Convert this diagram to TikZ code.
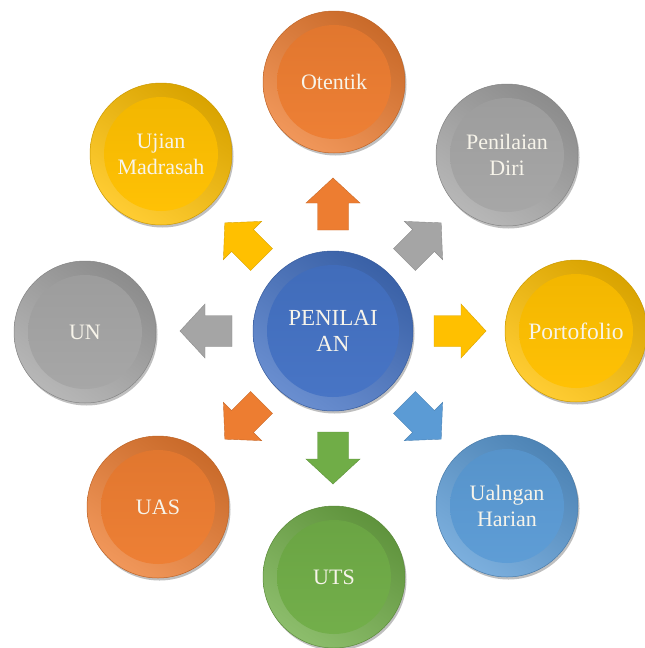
\documentclass[tikz,border=0pt]{standalone}
\usepackage{fontspec}
\setmainfont{Liberation Serif}
\usetikzlibrary{shadows,calc}
\definecolor{orangeC}{HTML}{ED7D31}
\definecolor{grayC}{HTML}{A5A5A5}
\definecolor{goldC}{HTML}{FFC000}
\definecolor{lblueC}{HTML}{5B9BD5}
\definecolor{greenC}{HTML}{70AD47}
\definecolor{blueC}{HTML}{4472C4}
\definecolor{txtC}{HTML}{F7F4EA}
\tikzset{
  bubble/.style 2 args={circle, inner sep=0pt, minimum size=142pt,
    font=\fontsize{22}{26}\selectfont, text=txtC, align=center,
    draw=#1!80!black, line width=0.5pt,
    drop shadow={shadow xshift=1.5pt, shadow yshift=-2.5pt, opacity=0.25, fill=black},
    path picture={
      \shade[top color=#1!85!black, middle color=#1, bottom color=#1!80!white, shading angle=-35]
        (path picture bounding box.south west) rectangle (path picture bounding box.north east);
      \shade[top color=#1!95!black, bottom color=#1!98!white]
        (path picture bounding box.center) circle (#2);
    }},
  barrow/.style={fill=#1, draw=#1!85!black, line width=0.4pt}
}
\newcommand\mybarrow[3]{%
  \begin{scope}[shift={(#1.center)}, rotate=#2]
    \path[barrow=#3] (101,-15.5) -- (128,-15.5) -- (128,-27) -- (153,0)
      -- (128,27) -- (128,15.5) -- (101,15.5) -- cycle;
  \end{scope}}
\begin{document}
\begin{tikzpicture}[x=1pt,y=-1pt]
\useasboundingbox (0,0) rectangle (645,648);
\node[bubble={blueC}{66pt}, minimum size=160pt, font=\fontsize{23}{26}\selectfont] (c) at (333,331) {PENILAI\\AN};
\node[bubble={orangeC}{57pt}] (ot) at (334,82) {Otentik};
\node[bubble={grayC}{57pt}] (pd) at (507,155) {Penilaian\\Diri};
\node[bubble={goldC}{57pt}, font=\fontsize{23.5}{26}\selectfont] (pf) at (576,331) {Portofolio};
\node[bubble={lblueC}{57pt}] (uh) at (507,506) {Ualngan\\Harian};
\node[bubble={greenC}{57pt}] (uts) at (334,577) {UTS};
\node[bubble={orangeC}{57pt}] (uas) at (158,507) {UAS};
\node[bubble={grayC}{57pt}] (un) at (85,332) {UN};
\node[bubble={goldC}{57pt}] (um) at (161,154) {Ujian\\Madrasah};
\mybarrow{c}{90}{orangeC}
\mybarrow{c}{45}{grayC}
\mybarrow{c}{0}{goldC}
\mybarrow{c}{-45}{lblueC}
\mybarrow{c}{-90}{greenC}
\mybarrow{c}{-135}{orangeC}
\mybarrow{c}{180}{grayC}
\mybarrow{c}{135}{goldC}
\end{tikzpicture}
\end{document}
